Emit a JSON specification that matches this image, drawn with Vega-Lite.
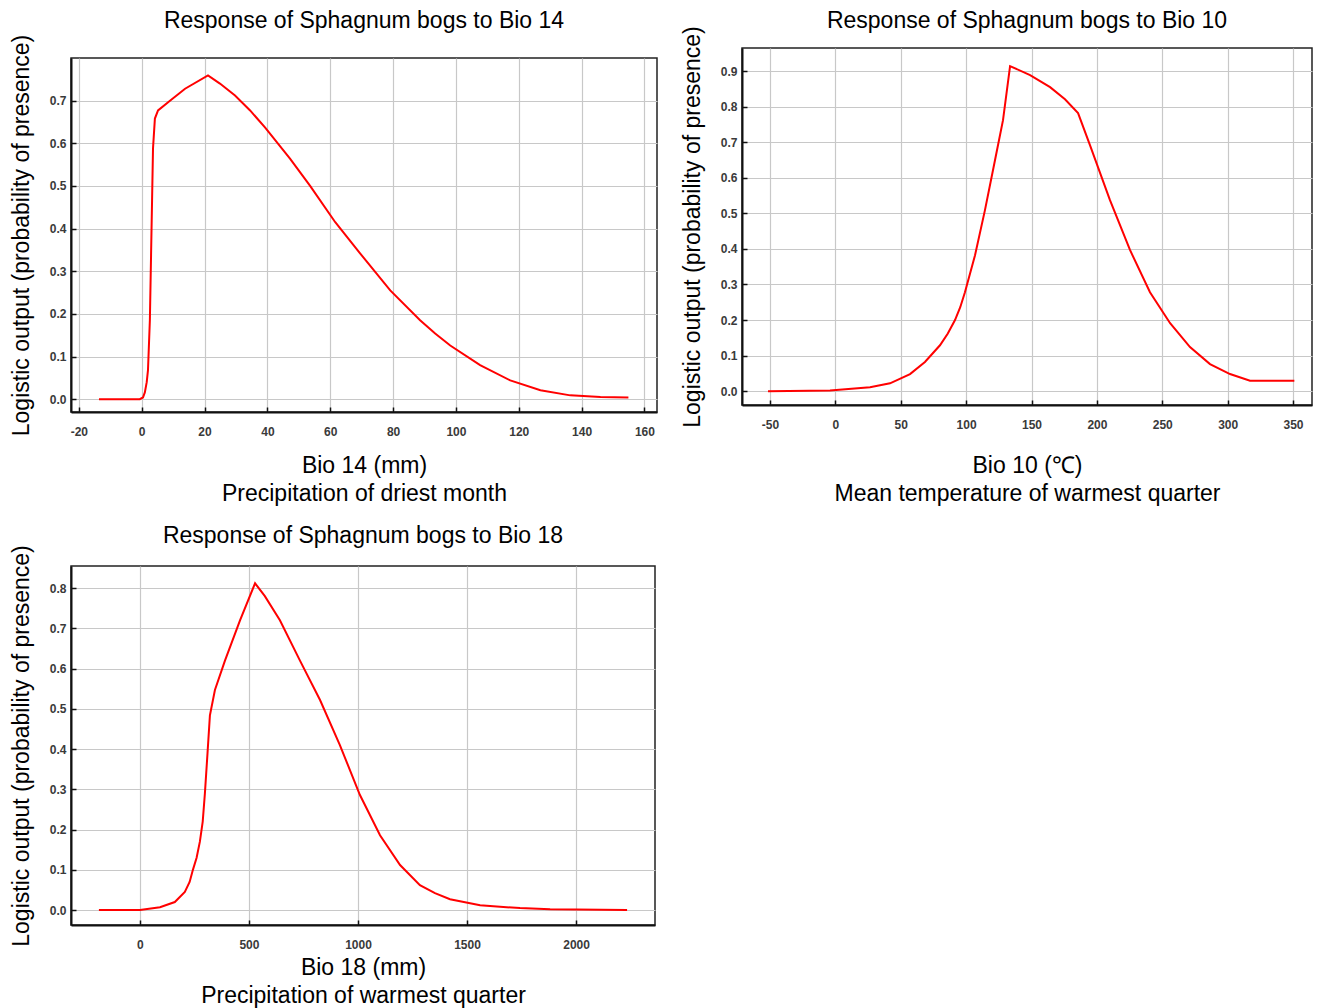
{
  "$schema": "https://vega.github.io/schema/vega-lite/v6.json",
  "background": "white",
  "padding": {"left": 9, "top": 9, "right": 5, "bottom": 0},
  "config": {
    "font": "Liberation Sans",
    "view": {"stroke": "#222", "strokeWidth": 1.5},
    "axis": {
      "domainColor": "#111", "domainWidth": 2,
      "tickColor": "#111", "tickSize": -5, "tickWidth": 1.5,
      "gridColor": "#c8c8c8", "gridWidth": 1.2, "grid": true,
      "labelFont": "Liberation Sans", "labelFontSize": 12, "labelFontWeight": "bold", "labelColor": "#3a3a3a",
      "labelExpr": "'' + datum.value",
      "titleFont": "Liberation Sans", "titleFontSize": 23, "titleFontWeight": "normal", "titleColor": "#000",
      "titleLineHeight": 28,
      "labelFlush": false, "labelOverlap": false
    },
    "axisY": {"labelExpr": "format(datum.value, '.1f')", "labelPadding": 10, "titlePadding": 16},
    "axisX": {"labelPadding": 19, "titlePadding": 17},
    "title": {"font": "Liberation Sans", "fontSize": 23, "fontWeight": "normal", "color": "#000", "anchor": "middle"},
    "line": {"color": "#ff0000", "strokeWidth": 2}
  },
  "datasets": {
    "bio14": [
      {"x": -13.6, "y": 0.0}, {"x": -0.6, "y": 0.0}, {"x": 0.4, "y": 0.004}, {"x": 1.0, "y": 0.016}, {"x": 1.6, "y": 0.04}, {"x": 2.0, "y": 0.068},
      {"x": 2.6, "y": 0.185}, {"x": 3.3, "y": 0.466}, {"x": 3.6, "y": 0.588}, {"x": 4.2, "y": 0.658},
      {"x": 5.2, "y": 0.677}, {"x": 9.0, "y": 0.70}, {"x": 13.8, "y": 0.728}, {"x": 21.1, "y": 0.759},
      {"x": 24.9, "y": 0.74}, {"x": 29.7, "y": 0.712}, {"x": 34.5, "y": 0.677}, {"x": 39.3, "y": 0.637},
      {"x": 47.2, "y": 0.564}, {"x": 53.6, "y": 0.50}, {"x": 61.6, "y": 0.415}, {"x": 69.5, "y": 0.342},
      {"x": 79.1, "y": 0.255}, {"x": 88.6, "y": 0.185}, {"x": 93.4, "y": 0.154}, {"x": 98.2, "y": 0.126}, {"x": 107.7, "y": 0.080},
      {"x": 117.3, "y": 0.044}, {"x": 126.9, "y": 0.021}, {"x": 136.4, "y": 0.009}, {"x": 146.0, "y": 0.005},
      {"x": 154.9, "y": 0.004}
    ],
    "bio10": [
      {"x": -51.5, "y": 0.0}, {"x": -4.1, "y": 0.002}, {"x": 26.5, "y": 0.011}, {"x": 41.8, "y": 0.022},
      {"x": 57.1, "y": 0.048}, {"x": 68.5, "y": 0.082}, {"x": 80.0, "y": 0.129}, {"x": 86.0, "y": 0.162}, {"x": 91.5, "y": 0.20},
      {"x": 95.5, "y": 0.236}, {"x": 99.1, "y": 0.278}, {"x": 106.8, "y": 0.382}, {"x": 114.4, "y": 0.509}, {"x": 122.1, "y": 0.65},
      {"x": 128.2, "y": 0.762}, {"x": 133.6, "y": 0.914}, {"x": 148.9, "y": 0.889}, {"x": 164.2, "y": 0.855},
      {"x": 175.6, "y": 0.821}, {"x": 185.6, "y": 0.782}, {"x": 194.7, "y": 0.692}, {"x": 210.0, "y": 0.537},
      {"x": 225.3, "y": 0.397}, {"x": 240.6, "y": 0.278}, {"x": 256.0, "y": 0.191}, {"x": 271.2, "y": 0.124},
      {"x": 286.5, "y": 0.076}, {"x": 301.8, "y": 0.048}, {"x": 317.1, "y": 0.029}, {"x": 351.0, "y": 0.029}
    ],
    "bio18": [
      {"x": -188, "y": 0.0}, {"x": 0, "y": 0.0}, {"x": 92, "y": 0.007}, {"x": 160, "y": 0.02},
      {"x": 206, "y": 0.045}, {"x": 228, "y": 0.07}, {"x": 243, "y": 0.10}, {"x": 260, "y": 0.13}, {"x": 275, "y": 0.17}, {"x": 288, "y": 0.22}, {"x": 298, "y": 0.29},
      {"x": 310, "y": 0.39}, {"x": 321, "y": 0.484}, {"x": 344, "y": 0.547}, {"x": 390, "y": 0.62}, {"x": 459, "y": 0.72},
      {"x": 528, "y": 0.812}, {"x": 573, "y": 0.78}, {"x": 642, "y": 0.72}, {"x": 734, "y": 0.62},
      {"x": 826, "y": 0.522}, {"x": 917, "y": 0.41}, {"x": 1009, "y": 0.286}, {"x": 1101, "y": 0.186},
      {"x": 1193, "y": 0.112}, {"x": 1284, "y": 0.062}, {"x": 1353, "y": 0.042}, {"x": 1422, "y": 0.027}, {"x": 1560, "y": 0.012},
      {"x": 1743, "y": 0.005}, {"x": 1881, "y": 0.002}, {"x": 2234, "y": 0.0}
    ]
  },
  "hconcat": [
    {
      "vconcat": [
        {
          "vconcat": [
            {
              "width": 586, "height": 1,
              "view": {"stroke": null},
              "data": {"values": [{"k": 0}]},
              "mark": {"type": "point", "opacity": 0},
              "encoding": {}
            },
            {
              "width": 586, "height": 354,
              "title": {"text": "Response of Sphagnum bogs to Bio 14", "offset": 1},
              "data": {"name": "bio14"},
              "mark": {"type": "line", "clip": true},
              "encoding": {
                "x": {"field": "x", "type": "quantitative", "scale": {"domain": [-22.5, 164], "nice": false, "zero": false},
                  "axis": {"values": [-20, 0, 20, 40, 60, 80, 100, 120, 140, 160],
                    "title": ["Bio 14 (mm)", "Precipitation of driest month"]}},
                "y": {"field": "y", "type": "quantitative", "scale": {"domain": [-0.03, 0.8], "nice": false, "zero": false},
                  "axis": {"values": [0, 0.1, 0.2, 0.3, 0.4, 0.5, 0.6, 0.7],
                    "title": "Logistic output (probability of presence)"}}
              }
            }
          ],
          "bounds": "flush",
          "spacing": 9
        },
        {
          "width": 584, "height": 359,
          "title": {"text": "Response of Sphagnum bogs to Bio 18", "offset": -3},
          "data": {"name": "bio18"},
          "mark": {"type": "line", "clip": true},
          "encoding": {
            "x": {"field": "x", "type": "quantitative", "scale": {"domain": [-316, 2362], "nice": false, "zero": false},
              "axis": {"values": [0, 500, 1000, 1500, 2000], "titlePadding": 6,
                "title": ["Bio 18 (mm)", "Precipitation of warmest quarter"]}},
            "y": {"field": "y", "type": "quantitative", "scale": {"domain": [-0.037, 0.855], "nice": false, "zero": false},
              "axis": {"values": [0, 0.1, 0.2, 0.3, 0.4, 0.5, 0.6, 0.7, 0.8],
                "title": "Logistic output (probability of presence)"}}
          }
        }
      ],
      "spacing": 18
    },
    {
      "vconcat": [
        {
          "width": 570, "height": 357,
          "title": {"text": "Response of Sphagnum bogs to Bio 10", "offset": -7},
          "data": {"name": "bio10"},
          "mark": {"type": "line", "clip": true},
          "encoding": {
            "x": {"field": "x", "type": "quantitative", "scale": {"domain": [-71.4, 364.5], "nice": false, "zero": false},
              "axis": {"values": [-50, 0, 50, 100, 150, 200, 250, 300, 350], "titlePadding": 24,
                "title": ["Bio 10 (℃)", "Mean temperature of warmest quarter"]}},
            "y": {"field": "y", "type": "quantitative", "scale": {"domain": [-0.039, 0.965], "nice": false, "zero": false},
              "axis": {"values": [0, 0.1, 0.2, 0.3, 0.4, 0.5, 0.6, 0.7, 0.8, 0.9],
                "title": "Logistic output (probability of presence)"}}
          }
        }
      ]
    }
  ],
  "spacing": 22
}
